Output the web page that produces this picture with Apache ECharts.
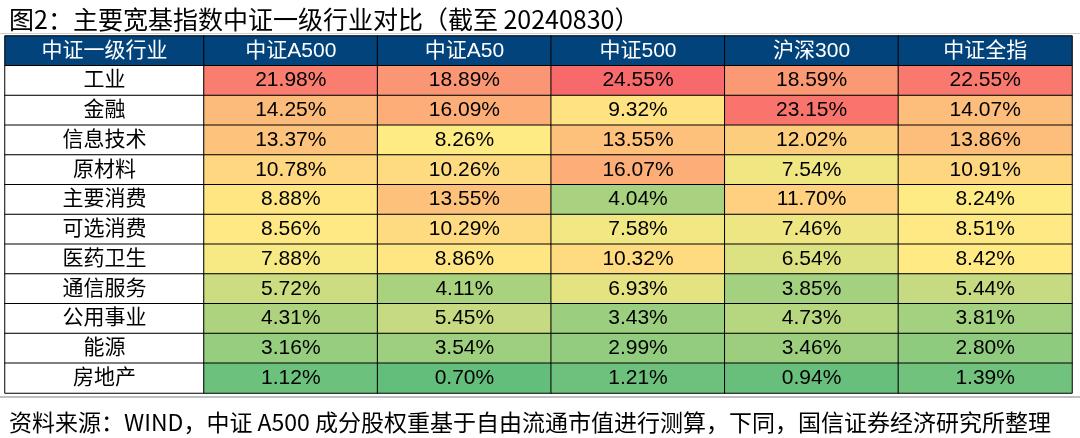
<!DOCTYPE html>
<html>
<head>
<meta charset="utf-8">
<script src="https://cdn.jsdelivr.net/npm/echarts@6/dist/echarts.min.js"></script>
<style>
  html, body { margin: 0; padding: 0; background: #fff; }
  #chart { width: 1080px; height: 438px; }
</style>
</head>
<body>
<div id="chart"></div>
<script>
// 指数（列）
const indices = ['中证A500', '中证A50', '中证500', '沪深300', '中证全指'];
// 中证一级行业（行）
const industries = ['工业', '金融', '信息技术', '原材料', '主要消费', '可选消费', '医药卫生', '通信服务', '公用事业', '能源', '房地产'];
// 各指数行业权重 %
const csiA500 = [21.98, 14.25, 13.37, 10.78, 8.88, 8.56, 7.88, 5.72, 4.31, 3.16, 1.12];
const csiA50 = [18.89, 16.09, 8.26, 10.26, 13.55, 10.29, 8.86, 4.11, 5.45, 3.54, 0.70];
const csi500 = [24.55, 9.32, 13.55, 16.07, 4.04, 7.58, 10.32, 6.93, 3.43, 2.99, 1.21];
const hs300 = [18.59, 23.15, 12.02, 7.54, 11.70, 7.46, 6.54, 3.85, 4.73, 3.46, 0.94];
const csiAll = [22.55, 14.07, 13.86, 10.91, 8.24, 8.51, 8.42, 5.44, 3.81, 2.80, 1.39];

const columns = [csiA500, csiA50, csi500, hs300, csiAll];
const headerName = '中证一级行业';

// 三色阶：最小值绿、中位数黄、最大值红
const all = columns.flat().slice().sort((a, b) => a - b);
const vMin = all[0], vMax = all[all.length - 1];
const vMed = all[Math.floor(all.length / 2)];
const GREEN = [0x63, 0xBE, 0x7B], YELLOW = [0xFF, 0xEB, 0x84], RED = [0xF8, 0x69, 0x6B];
function cellColor(v) {
  let a, b, t;
  if (v <= vMed) { a = GREEN; b = YELLOW; t = (v - vMin) / (vMed - vMin); }
  else { a = YELLOW; b = RED; t = (v - vMed) / (vMax - vMed); }
  const c = a.map((x, i) => Math.round(x + (b[i] - x) * t));
  return 'rgb(' + c.join(',') + ')';
}

const HEADER_BLUE = '#03437B';
const rowCats = ['表头'].concat(industries);

const cellData = [];
columns.forEach((col, ci) => {
  col.forEach((v, ri) => {
    cellData.push({ value: [ci, ri + 1, v], itemStyle: { color: cellColor(v) } });
  });
});
const headerData = indices.map((n, i) => [i, 0, 0]);
const labelData = industries.map((n, i) => [0, i + 1, 0]);

const chart = echarts.init(document.getElementById('chart'));

const FONT = '"Liberation Sans", Arial, "Noto Sans CJK SC", sans-serif';
const cellBorder = { borderColor: '#000', borderWidth: 1 };

chart.setOption({
  animation: false,
  title: [
    {
      text: '图2：主要宽基指数中证一级行业对比（截至 20240830）',
      left: 4, top: 2,
      textStyle: { fontFamily: '"Noto Sans CJK SC", sans-serif', fontSize: 25, fontWeight: 'normal', color: '#000' }
    },
    {
      text: '资料来源：WIND，中证 A500 成分股权重基于自由流通市值进行测算，下同，国信证券经济研究所整理',
      left: 4, top: 406,
      textStyle: { fontFamily: '"Noto Sans CJK SC", sans-serif', fontSize: 23, fontWeight: 'normal', color: '#000' }
    }
  ],
  graphic: [
    { type: 'line', shape: { x1: 0, y1: 33.5, x2: 1080, y2: 33.5 }, style: { stroke: '#d0d0d0', lineWidth: 1 } },
    { type: 'line', shape: { x1: 0, y1: 397, x2: 1080, y2: 397 }, style: { stroke: '#c0c0c0', lineWidth: 2 } }
  ],
  grid: [
    { left: 5, top: 36, width: 199, height: 357 },
    { left: 204, top: 36, width: 868, height: 357 }
  ],
  xAxis: [
    { type: 'category', gridIndex: 0, data: [headerName], show: false },
    { type: 'category', gridIndex: 1, data: indices, show: false }
  ],
  yAxis: [
    { type: 'category', gridIndex: 0, data: rowCats, inverse: true, show: false },
    { type: 'category', gridIndex: 1, data: rowCats, inverse: true, show: false }
  ],
  series: [
    {
      name: 'header0', type: 'heatmap', xAxisIndex: 0, yAxisIndex: 0,
      data: [[0, 0, 0]],
      itemStyle: { color: HEADER_BLUE, borderColor: '#000', borderWidth: 1 },
      label: { show: true, color: '#fff', fontFamily: FONT, fontSize: 21, formatter: () => headerName },
      emphasis: { disabled: true }
    },
    {
      name: 'rowLabels', type: 'heatmap', xAxisIndex: 0, yAxisIndex: 0,
      data: labelData,
      itemStyle: { color: '#fff', borderColor: '#000', borderWidth: 1 },
      label: { show: true, color: '#000', fontFamily: FONT, fontSize: 21, formatter: p => industries[p.value[1] - 1] },
      emphasis: { disabled: true }
    },
    {
      name: 'header1', type: 'heatmap', xAxisIndex: 1, yAxisIndex: 1,
      data: headerData,
      itemStyle: { color: HEADER_BLUE, borderColor: '#000', borderWidth: 1 },
      label: { show: true, color: '#fff', fontFamily: FONT, fontSize: 21, formatter: p => indices[p.value[0]] },
      emphasis: { disabled: true }
    },
    {
      name: 'weights', type: 'heatmap', xAxisIndex: 1, yAxisIndex: 1,
      data: cellData,
      itemStyle: cellBorder,
      label: { show: true, color: '#000', fontFamily: FONT, fontSize: 21, formatter: p => p.value[2].toFixed(2) + '%' },
      emphasis: { disabled: true }
    }
  ]
});
</script>
</body>
</html>
